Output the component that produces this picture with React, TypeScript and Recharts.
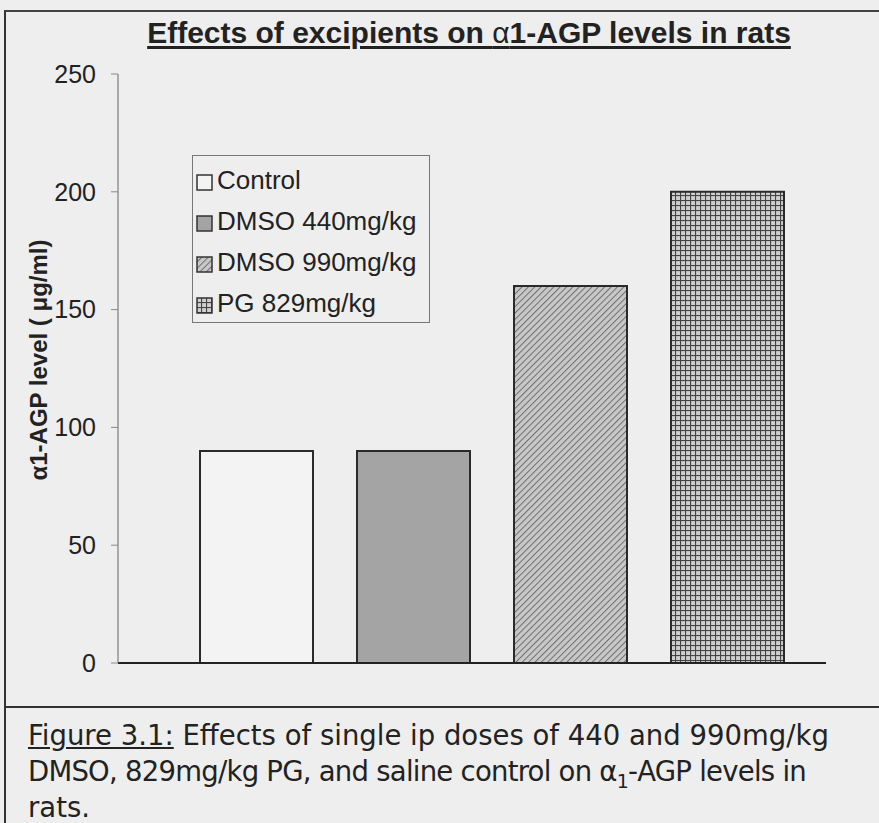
import React from "react";
import { BarChart, Bar, XAxis, YAxis, Cell, Legend } from "recharts";

const groups = ["Control", "DMSO 440mg/kg", "DMSO 990mg/kg", "PG 829mg/kg"];
const levels = [90, 90, 160, 200];
const yTicks = [0, 50, 100, 150, 200, 250];
const fills = ["#f3f3f3", "#a4a4a4", "url(#hatch)", "url(#grid)"];

const data = groups.map((g, i) => ({ group: g, level: levels[i] }));

const ARIAL = "'Liberation Sans', Arial, sans-serif";
const BG = "#eeeeee";

function Patterns() {
  return (
    <svg width={0} height={0} style={{ position: "absolute" }}>
      <defs>
        <pattern id="hatch" width="4.5" height="4.5" patternUnits="userSpaceOnUse" patternTransform="rotate(45)">
          <rect width="4.5" height="4.5" fill="#c8c8c8" />
          <line x1="0" y1="0" x2="0" y2="4.5" stroke="#6e6e6e" strokeWidth="2" />
        </pattern>
        <pattern id="grid" width="5" height="5" patternUnits="userSpaceOnUse">
          <rect width="5" height="5" fill="#cfcfcf" />
          <line x1="0" y1="0" x2="5" y2="0" stroke="#444" strokeWidth="2.2" />
          <line x1="0" y1="0" x2="0" y2="5" stroke="#444" strokeWidth="2.2" />
        </pattern>
      </defs>
    </svg>
  );
}

function LegendBox() {
  return (
    <div
      style={{
        width: 238,
        height: 168,
        border: "1px solid #777",
        background: BG,
        boxSizing: "border-box",
        padding: "4px 0 0 3px",
        fontFamily: ARIAL,
        fontSize: 26,
        color: "#222",
      }}
    >
      {groups.map((g, i) => (
        <div key={g} style={{ display: "flex", alignItems: "center", height: 41, whiteSpace: "nowrap" }}>
          <svg width={17} height={17} style={{ marginTop: 4 }}>
            <rect x={1} y={1} width={15} height={15} fill={fills[i]} stroke="#333" strokeWidth={1.5} />
          </svg>
          <span style={{ marginLeft: 4 }}>{g}</span>
        </div>
      ))}
    </div>
  );
}

const yLabel = () => (
  <text
    x={38}
    y={360}
    transform="rotate(-90 38 360)"
    textAnchor="middle"
    dominantBaseline="central"
    fontFamily={ARIAL}
    fontWeight="bold"
    fontSize={24}
    fill="#222"
  >
    α1-AGP level ( μg/ml)
  </text>
);

export default function App() {
  return (
    <div
      style={{
        position: "absolute",
        left: 0,
        top: 0,
        width: 879,
        height: 823,
        background: BG,
        overflow: "hidden",
      }}
    >
      <Patterns />
      {/* frame */}
      <div style={{ position: "absolute", left: 4, top: 10, width: 880, height: 900, borderLeft: "2px solid #333", borderTop: "2px solid #444" }} />
      <div style={{ position: "absolute", left: 4, top: 706, width: 880, borderTop: "2px solid #333" }} />

      <div
        style={{
          position: "absolute",
          left: 0,
          top: 16,
          width: 938,
          textAlign: "center",
          fontFamily: ARIAL,
          fontWeight: "bold",
          fontSize: 30,
          color: "#222",
          textDecoration: "underline",
          textUnderlineOffset: 3,
          whiteSpace: "nowrap",
        }}
      >
        Effects of excipients on <span style={{ fontWeight: "normal" }}>α</span>1-AGP levels in rats
      </div>

      <div style={{ position: "absolute", left: 0, top: 0 }}>
        <BarChart width={879} height={823} data={data} margin={{ top: 74, right: 53, left: 58, bottom: 159 }}>
          <XAxis
            dataKey="group"
            tick={false}
            tickLine={false}
            height={1}
            axisLine={{ stroke: "#222", strokeWidth: 2 }}
            padding={{ left: 60, right: 20 }}
          />
          <YAxis
            domain={[0, 250]}
            ticks={yTicks}
            interval={0}
            width={60}
            tickSize={7}
            tickMargin={15}
            tick={{ fontFamily: ARIAL, fontSize: 25, fill: "#222" }}
            tickLine={{ stroke: "#888" }}
            axisLine={{ stroke: "#666" }}
            label={{ content: yLabel }}
          />
          <Legend
            layout="horizontal"
            verticalAlign="middle"
            align="center"
            content={() => <LegendBox />}
            wrapperStyle={{ left: 192, top: 155, width: 238, height: 168 }}
          />
          <Bar dataKey="level" barSize={113} stroke="#2a2a2a" strokeWidth={2} isAnimationActive={false}>
            {data.map((d, i) => (
              <Cell key={d.group} fill={fills[i]} />
            ))}
          </Bar>
        </BarChart>
      </div>

      <div
        style={{
          position: "absolute",
          left: 28,
          top: 717,
          width: 860,
          fontFamily: "'DejaVu Sans', Verdana, sans-serif",
          fontSize: 27.5,
          lineHeight: "36px",
          color: "#222",
          whiteSpace: "nowrap",
        }}
      >
        <span style={{ textDecoration: "underline" }}>Figure 3.1:</span> Effects of single ip doses of 440 and 990mg/kg
        <br />
        <span style={{ letterSpacing: -0.75 }}>
          DMSO, 829mg/kg PG, and saline control on α<sub style={{ fontSize: 19, lineHeight: 0 }}>1</sub>-AGP levels in
        </span>
        <br />
        rats.
      </div>
    </div>
  );
}
